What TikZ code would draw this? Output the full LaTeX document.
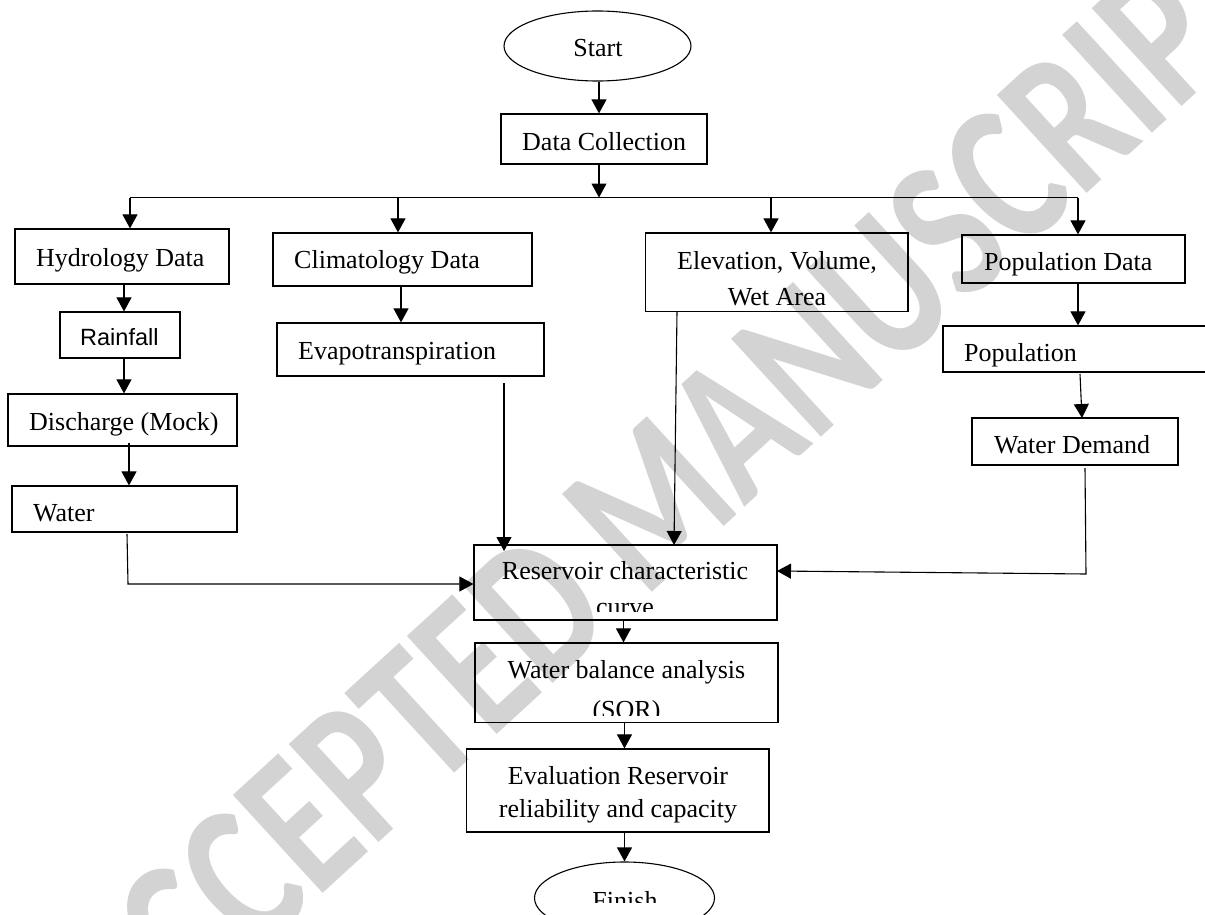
\documentclass[tikz,border=0pt]{standalone}
\usepackage{fontspec}
\setmainfont{Liberation Serif}
\newfontfamily\arialf{Liberation Sans}
\newfontfamily\wmfont{Carlito}
\usetikzlibrary{arrows.meta,shapes.geometric}
\definecolor{wmgray}{RGB}{211,211,211}
\begin{document}
\begin{tikzpicture}[x=1pt,y=-1pt,
  boxnode/.style={draw, line width=1.2pt, rectangle, inner sep=0pt},
  ovalnode/.style={draw, line width=1.1pt, ellipse, inner sep=0pt},
  txt/.style={inner sep=0pt, font=\fontsize{26}{30}\selectfont},
  arialtxt/.style={inner sep=0pt, font=\arialf\fontsize{23.5}{28}\selectfont},
  ln/.style={line width=1.1pt},
  arr/.style={line width=1.1pt, -{Triangle[width=15pt,length=14pt]}}]
\useasboundingbox (0,0) rectangle (1205,915);
\clip (0,0) rectangle (1205,915);

% watermark
\node[rotate=42.5, text=wmgray, inner sep=0pt] (wmark) at (665,490)
  {\wmfont\bfseries\fontsize{205}{205}\selectfont\scalebox{0.76}[1]{ACCEPTED MANUSCRIPT}};

% shapes
\node[ovalnode, minimum width=187pt, minimum height=70pt] (start) at (597.5,46) {};
\node[boxnode, minimum width=206pt, minimum height=50pt] (dc) at (604,139) {};
\node[boxnode, minimum width=214pt, minimum height=55pt] (hyd) at (122,256.5) {};
\node[boxnode, minimum width=259pt, minimum height=53pt] (clim) at (402.5,259.5) {};
\node[boxnode, minimum width=262.5pt, minimum height=78.5pt] (elev) at (776.75,272.25) {};
\node[boxnode, minimum width=223pt, minimum height=48pt] (popd) at (1073.5,259) {};
\node[boxnode, minimum width=120pt, minimum height=46pt] (rain) at (120,335) {};
\node[boxnode, minimum width=267pt, minimum height=53pt] (evap) at (410.5,349.5) {};
\node[boxnode, minimum width=229pt, minimum height=52pt] (dis) at (122.5,420) {};
\node[boxnode, minimum width=225pt, minimum height=46pt] (wat) at (124.5,509) {};
\node[boxnode, minimum width=272pt, minimum height=46pt] (pop) at (1079,349) {};
\node[boxnode, minimum width=206pt, minimum height=47pt] (wd) at (1075,441.5) {};
\node[boxnode, minimum width=303pt, minimum height=75pt] (res) at (625.5,582.5) {};
\node[boxnode, minimum width=303pt, minimum height=79.5pt] (wb) at (626.5,682.75) {};
\node[boxnode, minimum width=302.5pt, minimum height=83pt] (ev) at (617.75,790.5) {};
\node[ovalnode, minimum width=180pt, minimum height=72pt] (fin) at (624.5,898) {};

% texts
\node[txt, anchor=base] (t-start) at (598,57) {Start};
\node[txt, anchor=base west] (t-dc) at (522,150) {Data Collection};
\node[txt, anchor=base west] (t-hyd) at (36,266) {Hydrology Data};
\node[txt, anchor=base west] (t-clim) at (294,268) {Climatology Data};
\node[txt, anchor=base west] (t-popd) at (984,270) {Population Data};
\node[arialtxt, anchor=base west] (t-rain) at (80,345) {Rainfall};
\node[txt, anchor=base west] (t-evap) at (298,359) {Evapotranspiration};
\node[txt, anchor=base west] (t-dis) at (29,430) {Discharge (Mock)};
\node[txt, anchor=base west] (t-wat) at (33,521) {Water};
\node[txt, anchor=base west] (t-pop) at (964,361) {Population};
\node[txt, anchor=base west] (t-wd) at (994,453) {Water Demand};
\begin{scope}
  \clip (646,234) rectangle (907,308);
  \node[txt, anchor=base] (t-elev1) at (777,269) {Elevation, Volume,};
  \node[txt, anchor=base] (t-elev2) at (777,305) {Wet Area};
\end{scope}
\begin{scope}
  \clip (475,546) rectangle (776,611);
  \node[txt, anchor=base] (t-res1) at (625,579) {Reservoir characteristic};
  \node[txt, anchor=base] (t-res2) at (625,615) {curve};
\end{scope}
\begin{scope}
  \clip (476,644) rectangle (777,715);
  \node[txt, anchor=base] (t-wb1) at (626.5,678) {Water balance analysis};
  \node[txt, anchor=base] (t-wb2) at (626.5,718) {(SOR)};
\end{scope}
\node[txt, anchor=base] (t-ev1) at (618,784) {Evaluation Reservoir};
\node[txt, anchor=base] (t-ev2) at (618,817) {reliability and capacity};
\begin{scope}
  \clip (540,862) rectangle (710,902);
  \node[txt, anchor=base] (t-fin) at (625,909) {Finish};
\end{scope}

% connectors
\coordinate (hub) at (599,197.5);
\coordinate (hlw) at (130,197.5);
\coordinate (hle) at (1078,197.5);
\coordinate (d2) at (398,197.5);
\coordinate (d3) at (771,197.5);
\draw[arr] (start.south -| hub) -- (hub |- dc.north);
\draw[arr] (dc.south -| hub) -- (hub);
\draw[ln] (hlw) -- (hle);
\draw[arr] (hlw) -- (hlw |- hyd.north);
\draw[arr] (d2) -- (d2 |- clim.north);
\draw[arr] (d3) -- (d3 |- elev.north);
\draw[arr] (hle) -- (hle |- popd.north);

\coordinate (hr) at (124,0);
\draw[arr] (hyd.south -| hr) -- (hr |- rain.north);
\coordinate (ce) at (401,0);
\draw[arr] (clim.south -| ce) -- (ce |- evap.north);
\draw[arr] (rain.south -| hr) -- (hr |- dis.north);
\coordinate (dw) at (129,443);
\draw[arr] (dw) -- (dw |- wat.north);

\coordinate (w1) at (127,534);
\coordinate (w2) at (128,584);
\draw[arr] (w1) -- (w2) -- (w2 -| res.west);

\coordinate (e1) at (504,383);
\coordinate (e2) at (504,551);
\draw[arr] (e1) -- (e2);

\coordinate (el1) at (677,311.5);
\coordinate (el2) at (674,545);
\draw[arr] (el1) -- (el2);

\draw[arr] (popd.south -| hle) -- (hle |- pop.north);
\coordinate (pw1) at (1080,374);
\coordinate (pw2) at (1082,418);
\draw[arr] (pw1) -- (pw2);

\coordinate (wd1) at (1085,468);
\coordinate (wd2) at (1086,574);
\coordinate (wd3) at (777,571);
\draw[arr] (wd1) -- (wd2) -- (wd3);

\coordinate (c1) at (623.5,620);
\draw[arr] (c1) -- (c1 |- wb.north);
\coordinate (c2) at (624.5,722);
\draw[arr] (c2) -- (c2 |- ev.north);
\coordinate (c3) at (624.5,832);
\draw[arr] (c3) -- (c3 |- fin.north);
\end{tikzpicture}
\end{document}
